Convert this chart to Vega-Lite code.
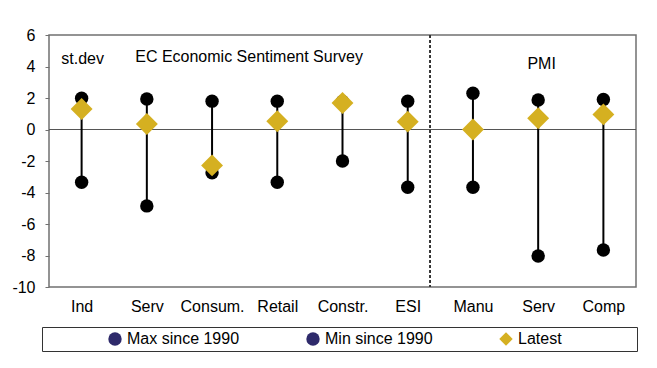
{
  "$schema": "https://vega.github.io/schema/vega-lite/v6.json",
  "width": 587,
  "height": 252,
  "autosize": {"type": "none"},
  "padding": {"left": 49, "top": 35, "right": 21, "bottom": 81},
  "background": "white",
  "config": {
    "locale": {"number": {"decimal": ".", "thousands": ",", "grouping": [3], "currency": ["$", ""], "minus": "-"}},
    "view": {"stroke": "#707070", "strokeWidth": 1.5},
    "font": "Liberation Sans",
    "axis": {"labelFont": "Liberation Sans", "labelFontSize": 16, "labelColor": "black", "grid": false, "domain": false},
    "axisY": {"labelOverlap": false, "tickSize": 4, "tickColor": "#707070", "labelPadding": 10},
    "legend": {"orient": "none", "legendX": -7, "legendY": 292, "direction": "horizontal", "columns": 3, "titleOrient": "left", "titleFontSize": 16, "titlePadding": 3, "labelFontSize": 16, "labelFont": "Liberation Sans", "labelColor": "black", "labelOffset": 4, "columnPadding": 65, "padding": 4, "strokeColor": "#333333", "symbolOpacity": 1, "symbolStrokeWidth": 0}
  },
  "datasets": {
    "main": [
      {"key": "Ind", "Max since 1990": 1.98, "Min since 1990": -3.35, "Latest": 1.3},
      {"key": "Serv", "Max since 1990": 1.94, "Min since 1990": -4.85, "Latest": 0.35},
      {"key": "Consum.", "Max since 1990": 1.8, "Min since 1990": -2.75, "Latest": -2.28},
      {"key": "Retail", "Max since 1990": 1.8, "Min since 1990": -3.35, "Latest": 0.52},
      {"key": "Constr.", "Max since 1990": 1.78, "Min since 1990": -2.0, "Latest": 1.68},
      {"key": "ESI", "Max since 1990": 1.8, "Min since 1990": -3.67, "Latest": 0.5},
      {"key": "Manu", "Max since 1990": 2.3, "Min since 1990": -3.67, "Latest": 0.0},
      {"key": "Serv2", "Max since 1990": 1.87, "Min since 1990": -8.03, "Latest": 0.71},
      {"key": "Comp", "Max since 1990": 1.9, "Min since 1990": -7.65, "Latest": 0.96}
    ]
  },
  "data": {"name": "main"},
  "encoding": {
    "x": {
      "field": "key",
      "type": "nominal",
      "sort": null,
      "scale": {"type": "point", "padding": 0.5, "domain": ["Ind", "Serv", "Consum.", "Retail", "Constr.", "ESI", "Manu", "Serv2", "Comp"]},
      "axis": {"title": null, "ticks": false, "labelPadding": 11, "labelAngle": 0, "labelExpr": "datum.value == 'Serv2' ? 'Serv' : datum.value"}
    }
  },
  "layer": [
    {
      "mark": {"type": "rule", "color": "#555555", "strokeWidth": 1},
      "encoding": {
        "x": null,
        "y": {"datum": 0, "type": "quantitative", "scale": {"domain": [-10, 6], "nice": false, "zero": false},
          "axis": {"title": null, "values": [-10, -8, -6, -4, -2, 0, 2, 4, 6], "labelOverlap": false}}
      }
    },
    {
      "mark": {"type": "rule", "color": "#333333", "strokeWidth": 1, "strokeDash": [3, 2], "xOffset": 22.5},
      "encoding": {"x": {"datum": "ESI", "type": "nominal"}}
    },
    {
      "mark": {"type": "rule", "color": "black", "strokeWidth": 2},
      "encoding": {
        "y": {"field": "Min since 1990", "type": "quantitative", "axis": {"title": null, "values": [-10, -8, -6, -4, -2, 0, 2, 4, 6], "labelOverlap": false}},
        "y2": {"field": "Max since 1990"}
      }
    },
    {
      "transform": [{"fold": ["Max since 1990", "Min since 1990", "Latest"], "as": ["series", "value"]}],
      "mark": {"type": "point", "filled": true, "opacity": 0},
      "encoding": {
        "y": {"field": "value", "type": "quantitative", "axis": {"title": null, "values": [-10, -8, -6, -4, -2, 0, 2, 4, 6], "labelOverlap": false}},
        "color": {"field": "series", "type": "nominal",
          "scale": {"domain": ["Max since 1990", "Min since 1990", "Latest"], "range": ["#2E2A6B", "#2E2A6B", "#D5B021"]},
          "legend": {"title": "\u2060\u00a0\u00a0\u00a0\u00a0\u00a0\u00a0\u00a0\u00a0\u00a0\u00a0\u00a0\u00a0\u00a0\u2060", "labelExpr": "datum.label == 'Latest' ? 'Latest\u00a0\u00a0\u00a0\u00a0\u00a0\u00a0\u00a0\u00a0\u00a0\u00a0\u00a0\u00a0\u00a0\u00a0\u00a0\u00a0\u2060' : datum.label"}},
        "shape": {"field": "series", "type": "nominal",
          "scale": {"domain": ["Max since 1990", "Min since 1990", "Latest"], "range": ["circle", "circle", "diamond"]},
          "legend": {"title": "\u2060\u00a0\u00a0\u00a0\u00a0\u00a0\u00a0\u00a0\u00a0\u00a0\u00a0\u00a0\u00a0\u00a0\u2060", "labelExpr": "datum.label == 'Latest' ? 'Latest\u00a0\u00a0\u00a0\u00a0\u00a0\u00a0\u00a0\u00a0\u00a0\u00a0\u00a0\u00a0\u00a0\u00a0\u00a0\u00a0\u2060' : datum.label"}},
        "size": {"field": "series", "type": "nominal",
          "scale": {"domain": ["Max since 1990", "Min since 1990", "Latest"], "range": [180, 180, 480]},
          "legend": {"title": "\u2060\u00a0\u00a0\u00a0\u00a0\u00a0\u00a0\u00a0\u00a0\u00a0\u00a0\u00a0\u00a0\u00a0\u2060", "labelExpr": "datum.label == 'Latest' ? 'Latest\u00a0\u00a0\u00a0\u00a0\u00a0\u00a0\u00a0\u00a0\u00a0\u00a0\u00a0\u00a0\u00a0\u00a0\u00a0\u00a0\u2060' : datum.label"}}
      }
    },
    {
      "mark": {"type": "circle", "size": 180, "color": "black", "opacity": 1},
      "encoding": {"y": {"field": "Max since 1990", "type": "quantitative", "axis": {"title": null, "values": [-10, -8, -6, -4, -2, 0, 2, 4, 6], "labelOverlap": false}}}
    },
    {
      "mark": {"type": "circle", "size": 180, "color": "black", "opacity": 1},
      "encoding": {"y": {"field": "Min since 1990", "type": "quantitative", "axis": {"title": null, "values": [-10, -8, -6, -4, -2, 0, 2, 4, 6], "labelOverlap": false}}}
    },
    {
      "mark": {"type": "point", "shape": "diamond", "filled": true, "size": 480, "color": "#D5B021", "opacity": 1},
      "encoding": {"y": {"field": "Latest", "type": "quantitative", "axis": {"title": null, "values": [-10, -8, -6, -4, -2, 0, 2, 4, 6], "labelOverlap": false}}}
    },
    {
      "data": {"values": [{"key": "Ind", "pos": 4.48, "label": "st.dev"}]},
      "mark": {"type": "text", "fontSize": 16, "font": "Liberation Sans", "color": "black", "align": "center", "baseline": "middle", "dx": 1},
      "encoding": {"y": {"field": "pos", "type": "quantitative", "axis": {"title": null, "values": [-10, -8, -6, -4, -2, 0, 2, 4, 6], "labelOverlap": false}}, "text": {"field": "label"}}
    },
    {
      "data": {"values": [{"key": "Consum.", "pos": 4.6, "label": "EC Economic Sentiment Survey"}]},
      "mark": {"type": "text", "fontSize": 16, "font": "Liberation Sans", "color": "black", "align": "center", "baseline": "middle", "dx": 37},
      "encoding": {"y": {"field": "pos", "type": "quantitative", "axis": {"title": null, "values": [-10, -8, -6, -4, -2, 0, 2, 4, 6], "labelOverlap": false}}, "text": {"field": "label"}}
    },
    {
      "data": {"values": [{"key": "Serv2", "pos": 4.16, "label": "PMI"}]},
      "mark": {"type": "text", "fontSize": 16, "font": "Liberation Sans", "color": "black", "align": "center", "baseline": "middle", "dx": 3.5},
      "encoding": {"y": {"field": "pos", "type": "quantitative", "axis": {"title": null, "values": [-10, -8, -6, -4, -2, 0, 2, 4, 6], "labelOverlap": false}}, "text": {"field": "label"}}
    }
  ]
}
